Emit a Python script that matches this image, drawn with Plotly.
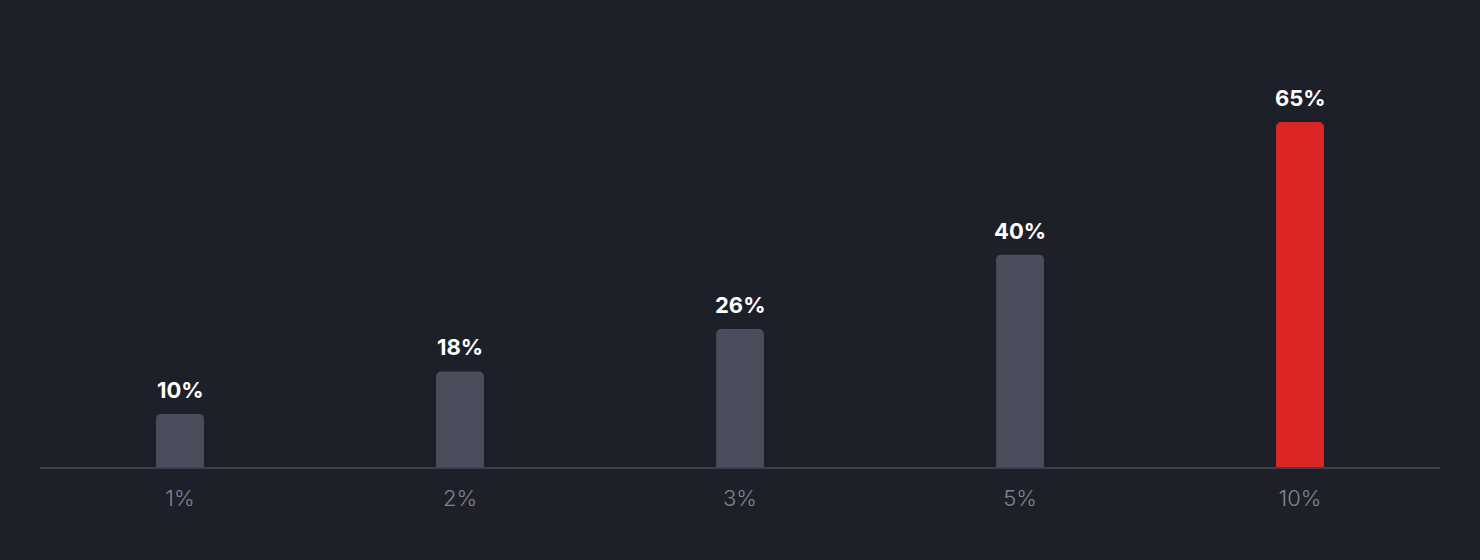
import plotly.graph_objects as go

categories = ["1%", "2%", "3%", "5%", "10%"]
values = [10, 18, 26, 40, 65]
labels = ["10%", "18%", "26%", "40%", "65%"]
colors = ["#4a4e5c", "#4a4e5c", "#4a4e5c", "#4a4e5c", "#dc2626"]

BG = "#1e2029"

fig = go.Figure()
fig.add_trace(go.Bar(
    x=categories, y=values,
    marker=dict(color=colors, line=dict(width=0)),
    width=0.171,
    hoverinfo="skip",
))

for c, v, t in zip(categories, values, labels):
    fig.add_annotation(x=c, y=v, text="<b>%s</b>" % t, showarrow=False,
                       yanchor="bottom", yshift=9,
                       font=dict(family="Inter", size=22, color="#ffffff"))

fig.update_layout(
    width=1480, height=560,
    paper_bgcolor=BG, plot_bgcolor=BG,
    margin=dict(l=40, r=40, t=20, b=93),
    barcornerradius=5,
    showlegend=False,
    xaxis=dict(showgrid=False, zeroline=False, showline=True, linecolor="#3d414d",
               linewidth=1.5, ticks="", ticklabelstandoff=11,
               tickfont=dict(family="Inter", size=22, color="#80848f", weight=300)),
    yaxis=dict(range=[0, 84.2], visible=False, showgrid=False, zeroline=False),
)

fig.write_html("out.html", config={"displayModeBar": False},
               post_script="document.body.style.margin='0';document.body.style.background='%s';" % BG)
